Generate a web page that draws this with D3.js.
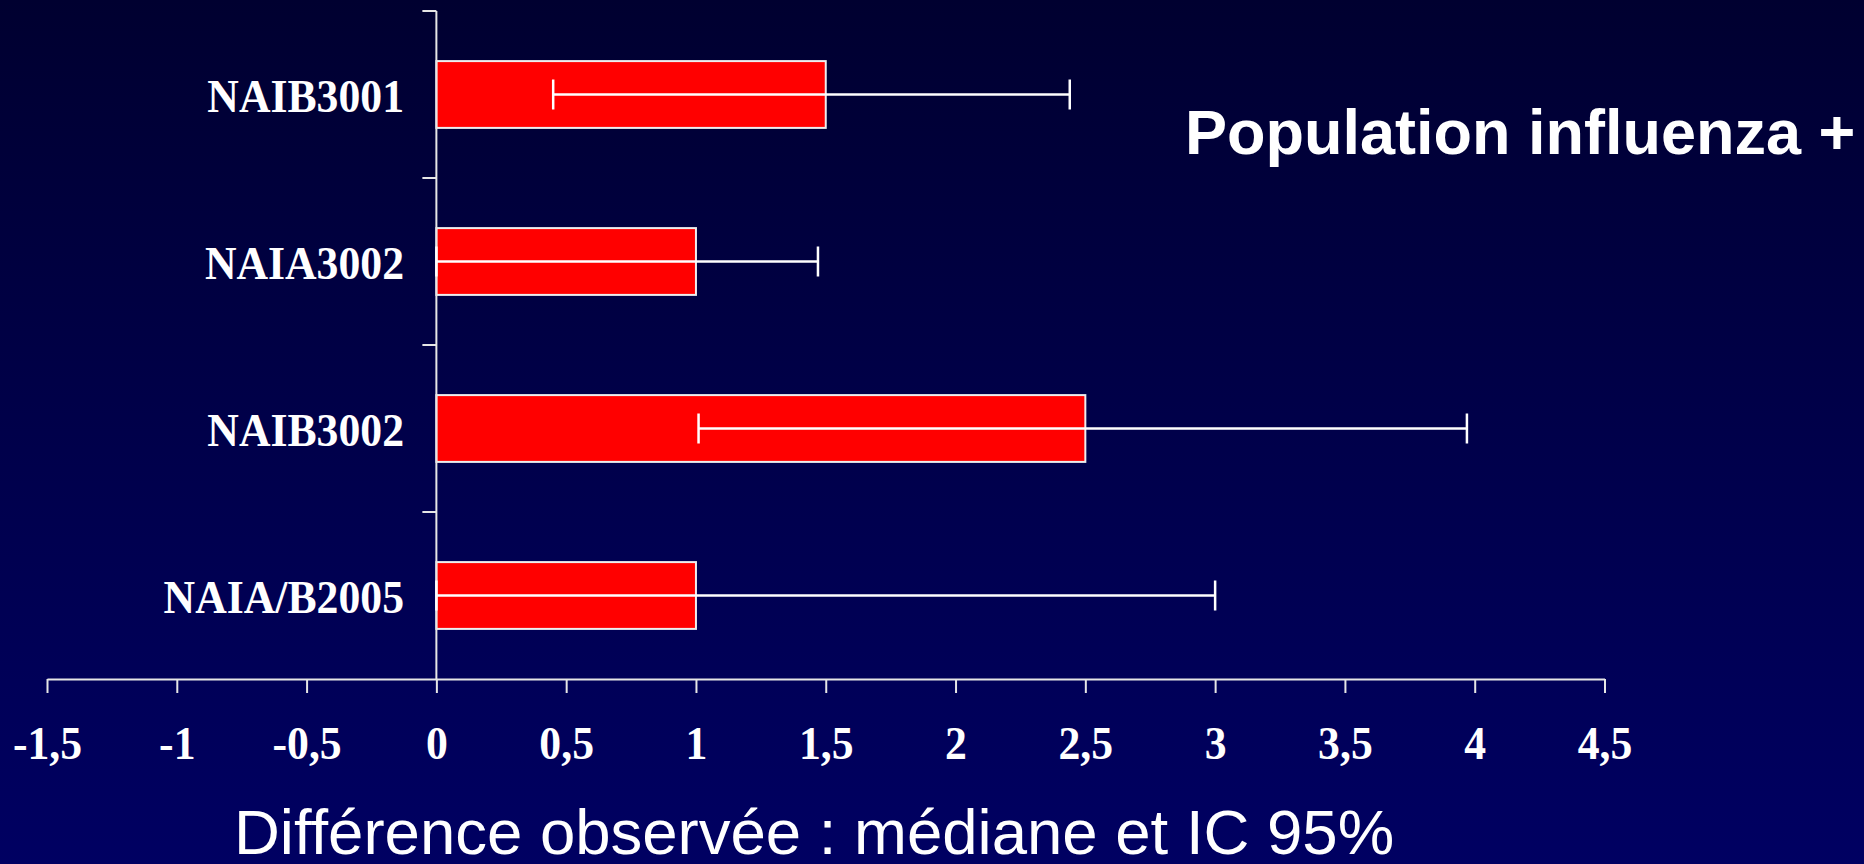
<!DOCTYPE html>
<html>
<head>
<meta charset="utf-8">
<script src="https://cdn.jsdelivr.net/npm/d3@7/dist/d3.min.js"></script>
<style>
  html, body { margin: 0; padding: 0; background: #000040; }
  svg { display: block; }
</style>
</head>
<body>
<svg id="chart" width="1864" height="864"></svg>
<script>
// ---- Data ----
const categories = ["NAIB3001", "NAIA3002", "NAIB3002", "NAIA/B2005"];
const medians = [1.5, 1.0, 2.5, 1.0];
const ciLow = [0.45, 0, 1.01, 0];
const ciHigh = [2.44, 1.47, 3.97, 3.0];
const xTicks = [-1.5, -1, -0.5, 0, 0.5, 1, 1.5, 2, 2.5, 3, 3.5, 4, 4.5];
const titleText = "Population influenza +";
const xAxisTitle = "Différence observée : médiane et IC 95%";

const W = 1864, H = 864;
const svg = d3.select("#chart");

// background gradient
const defs = svg.append("defs");
const grad = defs.append("linearGradient").attr("id", "bg")
  .attr("x1", 0).attr("y1", 0).attr("x2", 0).attr("y2", 1);
grad.append("stop").attr("offset", "0%").attr("stop-color", "#000030");
grad.append("stop").attr("offset", "50%").attr("stop-color", "#00004a");
grad.append("stop").attr("offset", "100%").attr("stop-color", "#000062");
svg.append("rect").attr("width", W).attr("height", H).attr("fill", "url(#bg)");

// scales
const x = d3.scaleLinear().domain([-1.5, 4.5]).range([47, 1604.5]);
const y = d3.scaleBand().domain(categories).range([11, 679])
  .paddingInner(0.6).paddingOuter(0.3);
const step = y.step();
const boundaries = d3.range(categories.length + 1).map(i => 11 + i * step);

const axisColor = "#e6e6e6";

// bars
svg.append("g").selectAll("rect").data(categories).join("rect")
  .attr("x", x(0))
  .attr("y", d => y(d))
  .attr("width", (d, i) => x(medians[i]) - x(0))
  .attr("height", y.bandwidth())
  .attr("fill", "#ff0000")
  .attr("stroke", "#eeeeee")
  .attr("stroke-width", 2);

// y axis (category boundaries as ticks)
const yAxis = svg.append("g");
yAxis.append("line")
  .attr("x1", x(0)).attr("x2", x(0))
  .attr("y1", boundaries[0]).attr("y2", boundaries[boundaries.length - 1])
  .attr("stroke", axisColor).attr("stroke-width", 2);
yAxis.selectAll("line.tick").data(boundaries.slice(0, -1)).join("line")
  .attr("class", "tick")
  .attr("x1", x(0) - 14).attr("x2", x(0))
  .attr("y1", d => d).attr("y2", d => d)
  .attr("stroke", axisColor).attr("stroke-width", 2);

// category labels (slightly condensed serif, as in the reference)
svg.append("g").selectAll("g").data(categories).join("g")
  .attr("transform", d => `translate(404,${y(d) + y.bandwidth() / 2 + 17}) scale(0.93,1)`)
  .append("text")
  .attr("text-anchor", "end")
  .attr("font-family", "'Liberation Serif', 'Times New Roman', serif")
  .attr("font-weight", "bold")
  .attr("font-size", 47)
  .attr("fill", "#ffffff")
  .text(d => d);

// x axis
const xAxis = d3.axisBottom(x).tickValues(xTicks).tickSize(14).tickSizeOuter(0)
  .tickFormat(d => String(d).replace(".", ","));
const gx = svg.append("g").attr("transform", "translate(0,679)").call(xAxis);
gx.select(".domain").attr("stroke", axisColor).attr("stroke-width", 2);
gx.selectAll(".tick line").attr("stroke", axisColor).attr("stroke-width", 2);
gx.selectAll(".tick text")
  .attr("y", 80).attr("dy", 0)
  .attr("transform", "scale(0.93,1)")
  .attr("font-family", "'Liberation Serif', 'Times New Roman', serif")
  .attr("font-weight", "bold")
  .attr("font-size", 47)
  .attr("fill", "#ffffff");

// error bars
const eb = svg.append("g").attr("stroke", "#ffffff").attr("stroke-width", 2.5);
categories.forEach((c, i) => {
  const cy = y(c) + y.bandwidth() / 2;
  eb.append("line").attr("x1", x(ciLow[i])).attr("x2", x(ciHigh[i]))
    .attr("y1", cy).attr("y2", cy);
  [ciLow[i], ciHigh[i]].forEach(v => {
    eb.append("line").attr("x1", x(v)).attr("x2", x(v))
      .attr("y1", cy - 15).attr("y2", cy + 15);
  });
});

// title
svg.append("text")
  .attr("x", 1185).attr("y", 154)
  .attr("font-family", "'Liberation Sans', Arial, sans-serif")
  .attr("font-weight", "bold")
  .attr("font-size", 63)
  .attr("fill", "#ffffff")
  .text(titleText);

// x axis title
svg.append("text")
  .attr("x", 234).attr("y", 854)
  .attr("font-family", "'Liberation Sans', Arial, sans-serif")
  .attr("font-size", 63.5)
  .attr("fill", "#ffffff")
  .text(xAxisTitle);
</script>
</body>
</html>
